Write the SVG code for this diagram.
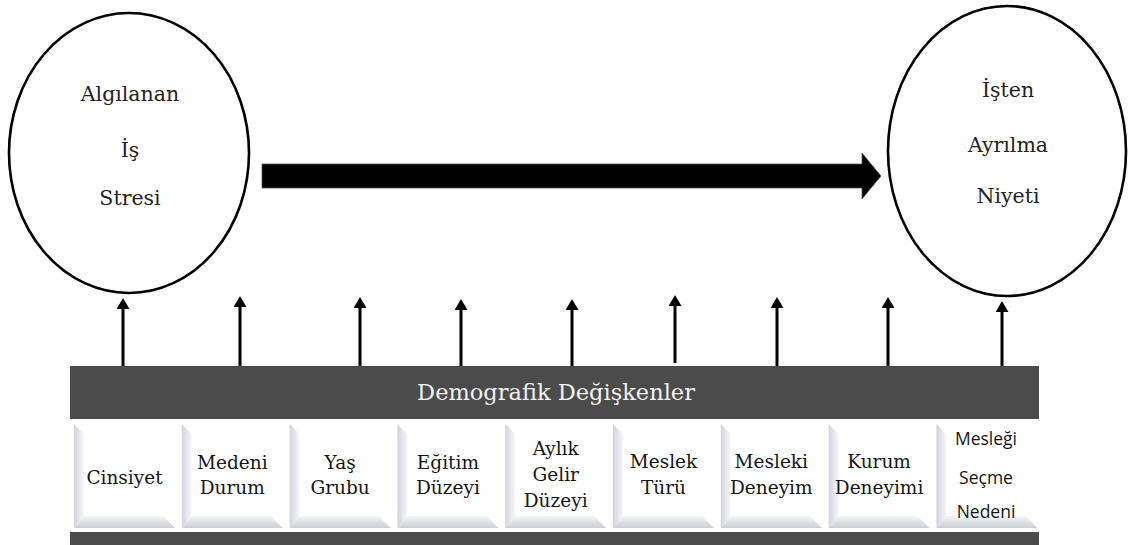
<svg xmlns="http://www.w3.org/2000/svg" width="1128" height="545" viewBox="0 0 1128 545">
  <style>
    .ell { fill: #ffffff; stroke: #000000; stroke-width: 2.6; }
    .etxt { font-family: "DejaVu Serif", "Liberation Serif", serif; font-size: 20.5px; fill: #222222; text-anchor: middle; }
    .btxt { font-family: "DejaVu Serif", "Liberation Serif", serif; font-size: 18.5px; fill: #141414; text-anchor: middle; }
    .stxt { font-family: "Open Sans", "Liberation Sans", sans-serif; font-size: 17.5px; fill: #141414; text-anchor: middle; }
    .bar { fill: #4b4b4b; }
    .bartxt { font-family: "DejaVu Serif", "Liberation Serif", serif; font-size: 22.5px; fill: #f2f2f2; text-anchor: middle; }
    .up { stroke: #000000; stroke-width: 3; fill: none; }
    .face { fill: #ffffff; }
    .lbev { fill: url(#gLeft); }
    .bbev { fill: url(#gBottom); }
  </style>
  <defs>
    <linearGradient id="gLeft" x1="0" y1="0" x2="1" y2="0">
      <stop offset="0" stop-color="#d2d2dc"/>
      <stop offset="1" stop-color="#f8f8fa"/>
    </linearGradient>
    <linearGradient id="gBottom" x1="0" y1="0" x2="0" y2="1">
      <stop offset="0" stop-color="#f6f6f8"/>
      <stop offset="1" stop-color="#cdcdd6"/>
    </linearGradient>
    <!-- arrowhead: base sits on the end of the shaft, tip points along the line -->
    <marker id="head" viewBox="0 0 11 13" refX="0" refY="6.5" markerWidth="11" markerHeight="13" markerUnits="userSpaceOnUse" orient="auto">
      <path d="M0,0 L11,6.5 L0,13 Z" fill="#000000"/>
    </marker>
  </defs>

  <rect width="1128" height="545" fill="#ffffff"/>

  <!-- Perceived job stress -->
  <g id="node-stres">
    <ellipse class="ell" cx="129" cy="153" rx="120" ry="140"/>
    <text class="etxt" x="130" y="101">Algılanan</text>
    <text class="etxt" x="130" y="157">İş</text>
    <text class="etxt" x="130" y="205">Stresi</text>
  </g>

  <!-- Turnover intention -->
  <g id="node-ayrilma">
    <ellipse class="ell" cx="1007" cy="151" rx="119" ry="145"/>
    <text class="etxt" x="1008" y="97">İşten</text>
    <text class="etxt" x="1008" y="152">Ayrılma</text>
    <text class="etxt" x="1008" y="203">Niyeti</text>
  </g>

  <!-- Demographic header bar -->
  <g id="node-demografik">
    <rect class="bar" x="70" y="366" width="969" height="53"/>
    <text class="bartxt" x="556" y="400">Demografik Değişkenler</text>
    <rect class="bar" x="70" y="532" width="969" height="13"/>
  </g>

  <!-- Variable keys -->
  <g id="node-cinsiyet">
    <rect class="face" x="74" y="424" width="101" height="104"/>
    <polygon class="lbev" points="74,424 84,434 84,516 74,528"/>
    <polygon class="bbev" points="74,528 84,516 163,516 175,528"/>
    <text class="btxt" x="124.5" y="484">Cinsiyet</text>
  </g>
  <g id="node-medeni">
    <rect class="face" x="181.8" y="424" width="101" height="104"/>
    <polygon class="lbev" points="181.8,424 191.8,434 191.8,516 181.8,528"/>
    <polygon class="bbev" points="181.8,528 191.8,516 270.8,516 282.8,528"/>
    <text class="btxt" x="232.3" y="469">Medeni</text>
    <text class="btxt" x="232.3" y="494">Durum</text>
  </g>
  <g id="node-yas">
    <rect class="face" x="289.6" y="424" width="101" height="104"/>
    <polygon class="lbev" points="289.6,424 299.6,434 299.6,516 289.6,528"/>
    <polygon class="bbev" points="289.6,528 299.6,516 378.6,516 390.6,528"/>
    <text class="btxt" x="340.1" y="469">Yaş</text>
    <text class="btxt" x="340.1" y="494">Grubu</text>
  </g>
  <g id="node-egitim">
    <rect class="face" x="397.4" y="424" width="101" height="104"/>
    <polygon class="lbev" points="397.4,424 407.4,434 407.4,516 397.4,528"/>
    <polygon class="bbev" points="397.4,528 407.4,516 486.4,516 498.4,528"/>
    <text class="btxt" x="447.9" y="469">Eğitim</text>
    <text class="btxt" x="447.9" y="494">Düzeyi</text>
  </g>
  <g id="node-gelir">
    <rect class="face" x="505.2" y="424" width="101" height="104"/>
    <polygon class="lbev" points="505.2,424 515.2,434 515.2,516 505.2,528"/>
    <polygon class="bbev" points="505.2,528 515.2,516 594.2,516 606.2,528"/>
    <text class="btxt" x="555.7" y="455">Aylık</text>
    <text class="btxt" x="555.7" y="481">Gelir</text>
    <text class="btxt" x="555.7" y="507">Düzeyi</text>
  </g>
  <g id="node-meslek-turu">
    <rect class="face" x="613" y="424" width="101" height="104"/>
    <polygon class="lbev" points="613,424 623,434 623,516 613,528"/>
    <polygon class="bbev" points="613,528 623,516 702,516 714,528"/>
    <text class="btxt" x="663.5" y="468">Meslek</text>
    <text class="btxt" x="663.5" y="494">Türü</text>
  </g>
  <g id="node-meslek-deneyim">
    <rect class="face" x="720.8" y="424" width="101" height="104"/>
    <polygon class="lbev" points="720.8,424 730.8,434 730.8,516 720.8,528"/>
    <polygon class="bbev" points="720.8,528 730.8,516 809.8,516 821.8,528"/>
    <text class="btxt" x="771.3" y="468">Mesleki</text>
    <text class="btxt" x="771.3" y="494">Deneyim</text>
  </g>
  <g id="node-kurum">
    <rect class="face" x="828.6" y="424" width="101" height="104"/>
    <polygon class="lbev" points="828.6,424 838.6,434 838.6,516 828.6,528"/>
    <polygon class="bbev" points="828.6,528 838.6,516 917.6,516 929.6,528"/>
    <text class="btxt" x="879.1" y="468">Kurum</text>
    <text class="btxt" x="879.1" y="494">Deneyimi</text>
  </g>
  <g id="node-secme">
    <rect class="face" x="936.4" y="424" width="101" height="104"/>
    <polygon class="lbev" points="936.4,424 946.4,434 946.4,516 936.4,528"/>
    <polygon class="bbev" points="936.4,528 946.4,516 1025.4,516 1037.4,528"/>
    <text class="stxt" x="986" y="445">Mesleği</text>
    <text class="stxt" x="986" y="484">Seçme</text>
    <text class="stxt" x="986" y="518">Nedeni</text>
  </g>

  <!-- Connectors -->
  <g id="connectors">
    <polygon points="262,164 862,164 862,153 881,176 862,199 862,188 262,188" fill="#000000" stroke="#555555" stroke-width="0.8"/>
    <line class="up" x1="123" y1="366" x2="123" y2="309" marker-end="url(#head)"/>
    <line class="up" x1="240" y1="366" x2="240" y2="307" marker-end="url(#head)"/>
    <line class="up" x1="360" y1="366" x2="360" y2="308" marker-end="url(#head)"/>
    <line class="up" x1="461" y1="366" x2="461" y2="310" marker-end="url(#head)"/>
    <line class="up" x1="572" y1="366" x2="572" y2="310" marker-end="url(#head)"/>
    <line class="up" x1="675" y1="363" x2="675" y2="306" marker-end="url(#head)"/>
    <line class="up" x1="777" y1="366" x2="777" y2="308" marker-end="url(#head)"/>
    <line class="up" x1="888" y1="366" x2="888" y2="308" marker-end="url(#head)"/>
    <line class="up" x1="1002" y1="366" x2="1002" y2="312" marker-end="url(#head)"/>
  </g>
</svg>
